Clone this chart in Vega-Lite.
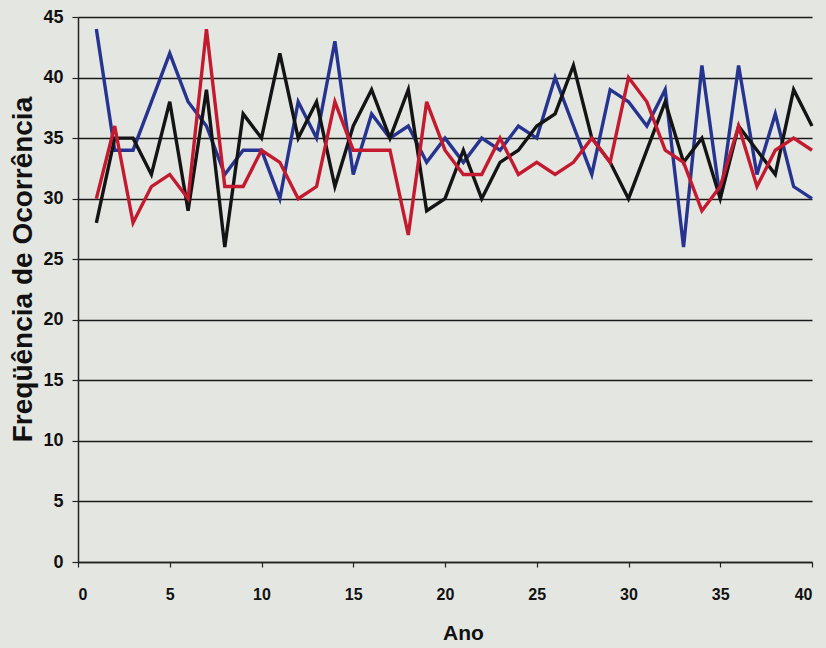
{
  "$schema": "https://vega.github.io/schema/vega-lite/v6.json",
  "autosize": "none",
  "width": 734,
  "height": 545,
  "padding": {"left": 78, "top": 17, "right": 14, "bottom": 86},
  "background": "#e4e7e1",
  "config": {
    "view": {"stroke": null},
    "font": "Liberation Sans"
  },
  "data": {"values": [
    {"ano":1,"s":"Azul","v":44},{"ano":2,"s":"Azul","v":34},{"ano":3,"s":"Azul","v":34},{"ano":4,"s":"Azul","v":38},{"ano":5,"s":"Azul","v":42},{"ano":6,"s":"Azul","v":38},{"ano":7,"s":"Azul","v":36},{"ano":8,"s":"Azul","v":32},{"ano":9,"s":"Azul","v":34},{"ano":10,"s":"Azul","v":34},
    {"ano":11,"s":"Azul","v":30},{"ano":12,"s":"Azul","v":38},{"ano":13,"s":"Azul","v":35},{"ano":14,"s":"Azul","v":43},{"ano":15,"s":"Azul","v":32},{"ano":16,"s":"Azul","v":37},{"ano":17,"s":"Azul","v":35},{"ano":18,"s":"Azul","v":36},{"ano":19,"s":"Azul","v":33},{"ano":20,"s":"Azul","v":35},
    {"ano":21,"s":"Azul","v":33},{"ano":22,"s":"Azul","v":35},{"ano":23,"s":"Azul","v":34},{"ano":24,"s":"Azul","v":36},{"ano":25,"s":"Azul","v":35},{"ano":26,"s":"Azul","v":40},{"ano":27,"s":"Azul","v":36},{"ano":28,"s":"Azul","v":32},{"ano":29,"s":"Azul","v":39},{"ano":30,"s":"Azul","v":38},
    {"ano":31,"s":"Azul","v":36},{"ano":32,"s":"Azul","v":39},{"ano":33,"s":"Azul","v":26},{"ano":34,"s":"Azul","v":41},{"ano":35,"s":"Azul","v":30},{"ano":36,"s":"Azul","v":41},{"ano":37,"s":"Azul","v":32},{"ano":38,"s":"Azul","v":37},{"ano":39,"s":"Azul","v":31},{"ano":40,"s":"Azul","v":30},
    {"ano":1,"s":"Preto","v":28},{"ano":2,"s":"Preto","v":35},{"ano":3,"s":"Preto","v":35},{"ano":4,"s":"Preto","v":32},{"ano":5,"s":"Preto","v":38},{"ano":6,"s":"Preto","v":29},{"ano":7,"s":"Preto","v":39},{"ano":8,"s":"Preto","v":26},{"ano":9,"s":"Preto","v":37},{"ano":10,"s":"Preto","v":35},
    {"ano":11,"s":"Preto","v":42},{"ano":12,"s":"Preto","v":35},{"ano":13,"s":"Preto","v":38},{"ano":14,"s":"Preto","v":31},{"ano":15,"s":"Preto","v":36},{"ano":16,"s":"Preto","v":39},{"ano":17,"s":"Preto","v":35},{"ano":18,"s":"Preto","v":39},{"ano":19,"s":"Preto","v":29},{"ano":20,"s":"Preto","v":30},
    {"ano":21,"s":"Preto","v":34},{"ano":22,"s":"Preto","v":30},{"ano":23,"s":"Preto","v":33},{"ano":24,"s":"Preto","v":34},{"ano":25,"s":"Preto","v":36},{"ano":26,"s":"Preto","v":37},{"ano":27,"s":"Preto","v":41},{"ano":28,"s":"Preto","v":35},{"ano":29,"s":"Preto","v":33},{"ano":30,"s":"Preto","v":30},
    {"ano":31,"s":"Preto","v":34},{"ano":32,"s":"Preto","v":38},{"ano":33,"s":"Preto","v":33},{"ano":34,"s":"Preto","v":35},{"ano":35,"s":"Preto","v":30},{"ano":36,"s":"Preto","v":36},{"ano":37,"s":"Preto","v":34},{"ano":38,"s":"Preto","v":32},{"ano":39,"s":"Preto","v":39},{"ano":40,"s":"Preto","v":36},
    {"ano":1,"s":"Vermelho","v":30},{"ano":2,"s":"Vermelho","v":36},{"ano":3,"s":"Vermelho","v":28},{"ano":4,"s":"Vermelho","v":31},{"ano":5,"s":"Vermelho","v":32},{"ano":6,"s":"Vermelho","v":30},{"ano":7,"s":"Vermelho","v":44},{"ano":8,"s":"Vermelho","v":31},{"ano":9,"s":"Vermelho","v":31},{"ano":10,"s":"Vermelho","v":34},
    {"ano":11,"s":"Vermelho","v":33},{"ano":12,"s":"Vermelho","v":30},{"ano":13,"s":"Vermelho","v":31},{"ano":14,"s":"Vermelho","v":38},{"ano":15,"s":"Vermelho","v":34},{"ano":16,"s":"Vermelho","v":34},{"ano":17,"s":"Vermelho","v":34},{"ano":18,"s":"Vermelho","v":27},{"ano":19,"s":"Vermelho","v":38},{"ano":20,"s":"Vermelho","v":34},
    {"ano":21,"s":"Vermelho","v":32},{"ano":22,"s":"Vermelho","v":32},{"ano":23,"s":"Vermelho","v":35},{"ano":24,"s":"Vermelho","v":32},{"ano":25,"s":"Vermelho","v":33},{"ano":26,"s":"Vermelho","v":32},{"ano":27,"s":"Vermelho","v":33},{"ano":28,"s":"Vermelho","v":35},{"ano":29,"s":"Vermelho","v":33},{"ano":30,"s":"Vermelho","v":40},
    {"ano":31,"s":"Vermelho","v":38},{"ano":32,"s":"Vermelho","v":34},{"ano":33,"s":"Vermelho","v":33},{"ano":34,"s":"Vermelho","v":29},{"ano":35,"s":"Vermelho","v":31},{"ano":36,"s":"Vermelho","v":36},{"ano":37,"s":"Vermelho","v":31},{"ano":38,"s":"Vermelho","v":34},{"ano":39,"s":"Vermelho","v":35},{"ano":40,"s":"Vermelho","v":34}
  ]},
  "mark": {"type": "line", "strokeWidth": 3.4, "clip": false},
  "encoding": {
    "x": {
      "field": "ano", "type": "quantitative",
      "scale": {"domain": [0, 40], "nice": false},
      "axis": {
        "title": "Ano", "values": [0,5,10,15,20,25,30,35,40],
        "grid": false, "domainColor": "#222", "domainWidth": 1.5,
        "tickColor": "#222", "tickSize": 5, "tickWidth": 1.2,
        "labelFont": "Liberation Sans", "labelFontSize": 16, "labelFontWeight": "bold", "labelColor": "#111", "labelPadding": 19,
        "titleFont": "Liberation Sans", "titleFontSize": 21, "titleFontWeight": "bold", "titleColor": "#111", "titlePadding": 20,
        "titleX": 385
      }
    },
    "y": {
      "field": "v", "type": "quantitative",
      "scale": {"domain": [0, 45], "nice": false},
      "axis": {
        "title": "Freqüência de Ocorrência", "values": [0,5,10,15,20,25,30,35,40,45],
        "grid": true, "gridColor": "#1a1a1a", "gridWidth": 1.6, "gridOpacity": 1,
        "domainColor": "#222", "domainWidth": 1.5,
        "tickColor": "#222", "tickSize": 6, "tickWidth": 1.2,
        "labelFont": "Liberation Sans", "labelFontSize": 18, "labelFontWeight": "bold", "labelColor": "#111", "labelPadding": 9,
        "titleFont": "Liberation Sans", "titleFontSize": 28, "titleFontWeight": "bold", "titleColor": "#111", "titlePadding": 5,
        "titleY": 252
      }
    },
    "color": {
      "field": "s", "type": "nominal",
      "scale": {"domain": ["Azul", "Preto", "Vermelho"], "range": ["#27348f", "#141414", "#c41a30"]},
      "legend": null
    },
    "order": {"field": "ano"}
  }
}
